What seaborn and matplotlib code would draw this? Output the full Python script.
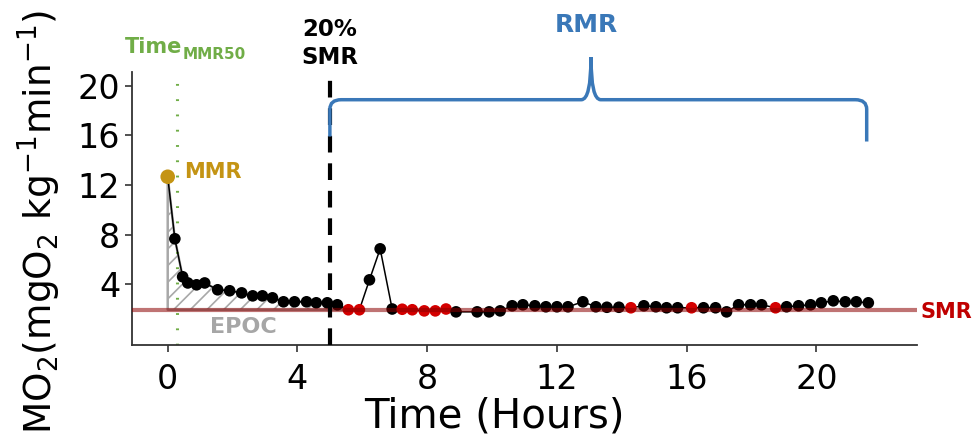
import numpy as np
import pandas as pd
import matplotlib
matplotlib.use("Agg")
import matplotlib.pyplot as plt
from matplotlib.path import Path
from matplotlib.patches import PathPatch
import seaborn as sns

# ---------------- data ----------------
time_h = [0.0, 0.22, 0.46, 0.62, 0.89, 1.14, 1.54, 1.91, 2.28, 2.62, 2.92, 3.23,
          3.57, 3.91, 4.28, 4.58, 4.92, 5.23, 5.57, 5.91, 6.22, 6.55, 6.92, 7.23,
          7.54, 7.91, 8.25, 8.58, 8.89, 9.54, 9.91, 10.25, 10.62, 10.95, 11.32,
          11.66, 12.0, 12.34, 12.8, 13.2, 13.54, 13.91, 14.28, 14.68, 15.05, 15.38,
          15.72, 16.15, 16.52, 16.89, 17.23, 17.6, 17.97, 18.31, 18.74, 19.08,
          19.45, 19.82, 20.15, 20.52, 20.89, 21.23, 21.6]
mo2 = [12.66, 7.66, 4.6, 4.1, 3.95, 4.1, 3.55, 3.47, 3.3, 3.06, 3.06, 2.9,
       2.58, 2.58, 2.58, 2.5, 2.5, 2.34, 1.94, 1.94, 4.35, 6.85, 2.0, 1.98,
       1.94, 1.85, 1.85, 2.0, 1.77, 1.77, 1.77, 1.85, 2.26, 2.34, 2.26,
       2.18, 2.18, 2.18, 2.58, 2.18, 2.14, 2.14, 2.1, 2.26, 2.18, 2.1,
       2.1, 2.1, 2.1, 2.1, 1.77, 2.34, 2.34, 2.34, 2.1, 2.18,
       2.26, 2.34, 2.5, 2.66, 2.58, 2.58, 2.5]
# point category: MMR / below-threshold (red) / other
point_type = ["MMR"] + ["normal"] * 17 + ["low", "low"] + ["normal"] * 3 + \
             ["low"] * 5 + ["normal"] * 14 + ["low"] + ["normal"] * 4 + ["low"] + \
             ["normal"] * 6 + ["low"] + ["normal"] * 8

smr_value = 1.94
time_mmr50 = 0.28
time_20pct_smr = 5.0
rmr_end = 21.55
epoc_end = 5.6

x_ticks = [0, 4, 8, 12, 16, 20]
y_ticks = [4, 8, 12, 16, 20]

df = pd.DataFrame({"time": time_h, "mo2": mo2, "type": point_type})

# ---------------- style ----------------
sns.set_style("ticks")
plt.rcParams["font.family"] = ["DejaVu Sans"]
plt.rcParams["mathtext.fontset"] = "dejavusans"
plt.rcParams["text.color"] = "black"
plt.rcParams["axes.labelcolor"] = "black"
plt.rcParams["xtick.color"] = "black"
plt.rcParams["ytick.color"] = "black"
plt.rcParams["hatch.color"] = "#9a9a9a"
plt.rcParams["hatch.linewidth"] = 1.2

GREEN = "#70AD47"
GOLD = "#C49414"
BLUE = "#3A78B8"
RED = "#C00000"
GRAY = "#A6A6A6"

fig = plt.figure(figsize=(9.78, 4.42), dpi=100)
ax = fig.add_axes([0.135, 0.2195, 0.8026, 0.6175])

# EPOC hatched area
t = np.array(time_h)
m = np.array(mo2)
sel = t <= epoc_end
ax.fill_between(t[sel], smr_value, np.maximum(m[sel], smr_value), facecolor="none",
                edgecolor="#a8a8a8", hatch="//", linewidth=1.8, zorder=1)

# connecting line
sns.lineplot(data=df, x="time", y="mo2", color="black", linewidth=1.1,
             ax=ax, zorder=2, sort=False)

# points
palette = {"normal": "black", "low": "#D40000", "MMR": GOLD}
sns.scatterplot(data=df[df["type"] != "MMR"], x="time", y="mo2", hue="type",
                palette=palette, s=70, edgecolor="none", legend=False, ax=ax,
                zorder=3)
sns.scatterplot(data=df[df["type"] == "MMR"], x="time", y="mo2", hue="type",
                palette=palette, s=110, edgecolor="none", legend=False, ax=ax,
                zorder=3)

# SMR line
ax.axhline(smr_value, color="#8B0000", alpha=0.55, linewidth=3, zorder=4)

# vertical markers
ax.axvline(time_mmr50, color=GREEN, linewidth=2.2, dashes=(0.6, 4.4), zorder=1)
ax.axvline(time_20pct_smr, color="black", linewidth=3, dashes=(4, 2.6), zorder=5)

# RMR brace
yb = 18.87
peak_x = 13.05
verts = [(time_20pct_smr, 15.9), (time_20pct_smr, 18.1),
         (time_20pct_smr, yb), (time_20pct_smr + 0.35, yb),
         (peak_x - 0.3, yb),
         (peak_x, yb), (peak_x, 22.3),
         (peak_x, yb), (peak_x + 0.3, yb),
         (rmr_end - 0.35, yb),
         (rmr_end, yb), (rmr_end, 18.1),
         (rmr_end, 15.5)]
codes = [Path.MOVETO, Path.LINETO,
         Path.CURVE3, Path.CURVE3,
         Path.LINETO,
         Path.CURVE3, Path.CURVE3,
         Path.CURVE3, Path.CURVE3,
         Path.LINETO,
         Path.CURVE3, Path.CURVE3,
         Path.LINETO]
ax.add_patch(PathPatch(Path(verts, codes), fill=False, edgecolor=BLUE,
                       linewidth=2.5, clip_on=False, zorder=6))

# annotations
ax.text(peak_x - 0.15, 24.9, "RMR", color=BLUE, fontsize=18, fontweight="bold",
        ha="center", va="center", clip_on=False)
ax.text(time_20pct_smr, 23.4, "20%\nSMR", color="black", fontsize=16.5,
        fontweight="bold", ha="center", va="center", linespacing=1.3,
        clip_on=False)
t_time = ax.text(-1.32, 22.66, "Time", color=GREEN, fontsize=15,
                 fontweight="bold", ha="left", va="baseline", clip_on=False)
ax.annotate("MMR50", xy=(1.0, 0.0), xycoords=t_time, xytext=(0.5, -3.5),
            textcoords="offset points", color=GREEN, fontsize=11,
            fontweight="bold", ha="left", va="bottom", annotation_clip=False)
ax.text(0.5, 13.06, "MMR", color=GOLD, fontsize=15, fontweight="bold",
        ha="left", va="center")
ax.text(1.3, 0.56, "EPOC", color=GRAY, fontsize=16, fontweight="bold",
        ha="left", va="center")
ax.text(23.2, 1.77, "SMR", color=RED, fontsize=15, fontweight="bold",
        ha="left", va="center", clip_on=False)

# axes
ax.set_xlim(-1.1, 23.1)
ax.set_ylim(-0.9, 21.1)
ax.set_xticks(x_ticks)
ax.set_yticks(y_ticks)
ax.tick_params(labelsize=24, length=5, width=1.2, color="#333333")
ax.tick_params(axis="x", pad=8)
ax.set_xlabel("Time (Hours)", fontsize=29)
ax.xaxis.set_label_coords(0.462, -0.19)
ax.set_ylabel(r"MO$_2$(mgO$_2$ kg$^{-1}$min$^{-1}$)", fontsize=27)
ax.yaxis.set_label_coords(-0.088, 0.45)
sns.despine(ax=ax)
for s in ("left", "bottom"):
    ax.spines[s].set_color("#333333")
    ax.spines[s].set_linewidth(1.3)

fig.savefig("out.png", dpi=100)
